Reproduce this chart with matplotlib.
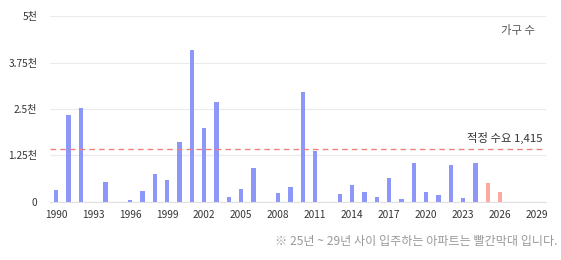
import matplotlib
matplotlib.use('Agg')
import matplotlib.pyplot as plt

plt.rcParams['font.family'] = ['Noto Sans CJK KR', 'DejaVu Sans']

years = list(range(1990, 2030))
households = [310, 2340, 2520, 0, 530, 0, 60, 300, 760, 580,
              1600, 4080, 1990, 2700, 130, 350, 910, 0, 230, 400,
              2960, 1370, 0, 200, 460, 270, 130, 630, 70, 1040,
              250, 170, 1000, 100, 1040, 510, 270, 0, 0, 0]
future_from = 2025
demand = 1415
y_ticks = [0, 1250, 2500, 3750, 5000]
y_tick_labels = ['0', '1.25천', '2.5천', '3.75천', '5천']
x_ticks = list(range(1990, 2030, 3))

blue = '#8d97f7'
red = '#f9ab9d'
colors = [red if y >= future_from else blue for y in years]

fig = plt.figure(figsize=(5.61, 2.60), dpi=100)
ax = fig.add_axes([0.089, 0.224, 0.884, 0.714])

ax.bar(years, households, width=0.36, color=colors, zorder=3)
ax.axhline(demand, color='#f08080', linestyle=(0, (4, 3)), linewidth=1.0, zorder=4)
ax.text(2029.4, demand + 130, f'적정 수요 {demand:,}', ha='right', va='bottom',
        fontsize=8.2, color='#333333', zorder=5)
ax.text(2028.8, 4620, '가구 수', ha='right', va='center', fontsize=8.2, color='#555555')

ax.set_xlim(1989.5, 2029.7)
ax.set_ylim(0, 5000)
ax.set_yticks(y_ticks)
ax.set_yticklabels(y_tick_labels)
ax.set_xticks(x_ticks)
ax.tick_params(axis='both', length=0, labelsize=7.3, colors='#333333')
ax.tick_params(axis='y', pad=9)
ax.tick_params(axis='x', pad=6)
ax.grid(axis='y', color='#ebebeb', linewidth=0.8, zorder=0)
for side in ['top', 'left', 'right']:
    ax.spines[side].set_visible(False)
ax.spines['bottom'].set_color('#e0e0e0')
ax.spines['bottom'].set_linewidth(0.8)

fig.text(0.993, 0.07, '※ 25년 ~ 29년 사이 입주하는 아파트는 빨간막대 입니다.', ha='right', va='center',
         fontsize=8.7, color='#999999')

fig.savefig('out.png', dpi=100)
